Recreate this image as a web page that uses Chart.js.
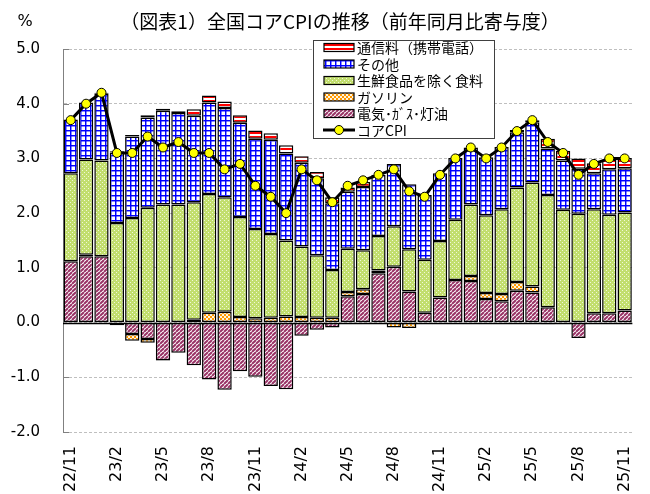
<!DOCTYPE html>
<html><head><meta charset="utf-8">
<script src="https://cdn.jsdelivr.net/npm/chart.js@4.4.1/dist/chart.umd.min.js"></script>
<style>html,body{margin:0;padding:0;background:#fff;}canvas{display:block;}</style>
</head><body>
<canvas id="c" width="650" height="494"></canvas>
<script>
const months = ['22/11','22/12','23/1','23/2','23/3','23/4','23/5','23/6','23/7','23/8','23/9','23/10',
  '23/11','23/12','24/1','24/2','24/3','24/4','24/5','24/6','24/7','24/8','24/9','24/10',
  '24/11','24/12','25/1','25/2','25/3','25/4','25/5','25/6','25/7','25/8','25/9','25/10','25/11'];
const energy   = [1.12,1.21,1.21,-0.01,-0.21,-0.30,-0.69,-0.55,-0.78,-1.04,-1.23,-0.89,
  -0.99,-1.16,-1.22,-0.24,-0.13,-0.09,0.48,0.52,0.90,1.02,0.57,0.18,
  0.46,0.78,0.76,0.43,0.39,0.58,0.55,0.28,0.01,-0.28,0.17,0.17,0.22];
const gasoline = [0.00,0.03,0.00,-0.04,-0.12,-0.07,-0.01,0.00,0.05,0.18,0.20,0.10,
  0.08,0.09,0.11,0.10,0.09,0.09,0.08,0.09,0.05,-0.09,-0.10,-0.01,
  -0.02,0.00,0.09,0.11,0.13,0.16,0.11,-0.03,0.00,0.00,0.00,0.00,0.00];
const food     = [1.61,1.74,1.75,1.82,1.91,2.10,2.16,2.16,2.15,2.17,2.09,1.83,
  1.63,1.53,1.39,1.29,1.14,0.87,0.79,0.71,0.63,0.74,0.77,0.97,
  1.03,1.10,1.31,1.42,1.55,1.73,1.90,2.05,2.05,1.99,1.90,1.80,1.79];
const other    = [0.98,1.04,1.22,1.29,1.49,1.65,1.71,1.67,1.58,1.67,1.63,1.72,
  1.65,1.72,1.59,1.53,1.41,1.22,1.04,1.16,1.12,1.14,1.19,1.18,
  1.24,1.13,1.04,1.06,1.14,1.01,1.10,0.85,0.90,0.82,0.66,0.83,0.81];
const mobile   = [0.00,0.00,0.02,0.02,0.03,0.04,0.04,0.03,0.12,0.13,0.12,0.14,
  0.15,0.12,0.15,0.12,0.11,0.11,0.08,0.09,0.00,0.00,0.00,0.00,
  0.00,0.00,0.00,0.00,0.00,0.04,0.04,0.18,0.18,0.19,0.18,0.18,0.19];
const coreCPI  = [3.7,4.0,4.2,3.1,3.1,3.4,3.2,3.3,3.1,3.1,2.8,2.9,
  2.5,2.3,2.0,2.8,2.6,2.2,2.5,2.6,2.7,2.8,2.4,2.3,
  2.7,3.0,3.2,3.0,3.2,3.5,3.7,3.3,3.1,2.7,2.9,3.0,3.0];
const yTicks = [-2,-1,0,1,2,3,4,5];
const titleText = '（図表1）全国コアCPIの推移（前年同月比寄与度）';

function makePattern(size, draw){
  const c = document.createElement('canvas'); c.width = size; c.height = size;
  const g = c.getContext('2d'); draw(g, size);
  return g.createPattern(c, 'repeat');
}
const energyPat = makePattern(4, (g,s)=>{
  g.fillStyle='#fff'; g.fillRect(0,0,s,s);
  g.strokeStyle='#993366'; g.lineWidth=2; g.beginPath();
  for(let o=-s;o<=2*s;o+=s){ g.moveTo(o,s); g.lineTo(o+s,0); }
  g.stroke();
});
const gasPat = makePattern(4,(g,s)=>{
  g.fillStyle='#FF9900'; g.fillRect(0,0,s,s);
  g.fillStyle='#FFF3E0'; g.fillRect(0,0,2,2); g.fillRect(2,2,2,2);
});
const foodPat = makePattern(4,(g,s)=>{
  g.fillStyle='#C2DE6E'; g.fillRect(0,0,s,s);
  g.fillStyle='#F0F8D8'; g.fillRect(0,0,1,1); g.fillRect(2,2,1,1);
});
const otherPat = makePattern(5,(g,s)=>{
  g.fillStyle='#fff'; g.fillRect(0,0,s,s);
  g.fillStyle='rgba(0,0,255,0.45)'; g.fillRect(0,1,s,1); g.fillRect(1,0,1,s);
  g.fillStyle='#0000FF'; g.fillRect(0,0,s,1); g.fillRect(0,0,1,s);
});
const mobilePat = makePattern(4,(g,s)=>{
  g.fillStyle='#fff'; g.fillRect(0,0,s,s);
  g.fillStyle='#FF0000'; g.fillRect(0,0,s,2);
});

function barSet(label, data, pat){
  return {type:'bar', label, data, backgroundColor:pat, borderColor:'#000', borderWidth:1.5,
    borderSkipped:false, stack:'contrib', order:1, barPercentage:0.93, categoryPercentage:1};
}
const datasets = [
  {type:'line', label:'コアCPI', data:coreCPI, stack:'cpi', order:0, borderColor:'#000', borderWidth:3,
   pointRadius:4.5, pointBackgroundColor:'#FFFF00', pointBorderColor:'#000', pointBorderWidth:1, tension:0},
  barSet('電気･ｶﾞｽ･灯油', energy, energyPat),
  barSet('ガソリン', gasoline, gasPat),
  barSet('生鮮食品を除く食料', food, foodPat),
  barSet('その他', other, otherPat),
  barSet('通信料（携帯電話）', mobile, mobilePat)
];

const decor = {
  id:'decor',
  beforeDatasetsDraw(chart){
    const {ctx, chartArea:a, scales:{y}} = chart;
    ctx.save();
    ctx.strokeStyle='#808080'; ctx.lineWidth=1;
    yTicks.forEach(v=>{
      const py = Math.round(y.getPixelForValue(v))+0.5;
      ctx.beginPath(); ctx.moveTo(a.left,py); ctx.lineTo(a.left+6,py); ctx.stroke();
    });
    const z = Math.round(y.getPixelForValue(0))+0.5;
    ctx.strokeStyle='#000'; ctx.lineWidth=1.5;
    ctx.beginPath(); ctx.moveTo(a.left,z); ctx.lineTo(a.right,z); ctx.stroke();
    ctx.restore();
  },
  afterDraw(chart){
    const ctx = chart.ctx;
    ctx.save();
    ctx.fillStyle='#000'; ctx.textBaseline='middle';
    ctx.font='19px "Noto Sans CJK JP"'; ctx.textAlign='center';
    ctx.fillText(titleText, 340, 22);
    ctx.font='16px "DejaVu Sans"'; ctx.textAlign='center';
    ctx.fillText('%', 25, 22);
    const bx=313.5, by=40.5, bw=181, bh=98;
    ctx.fillStyle='#fff'; ctx.fillRect(bx,by,bw,bh);
    ctx.strokeStyle='#404040'; ctx.lineWidth=1; ctx.strokeRect(bx,by,bw,bh);
    const order = [5,4,3,2,1,0];
    ctx.font='14px "Noto Sans CJK JP"'; ctx.textAlign='left';
    order.forEach((di,row)=>{
      const ds = chart.data.datasets[di];
      const cy = 47.5 + row*16.5;
      if (ds.type==='bar'){
        ctx.fillStyle = ds.backgroundColor;
        ctx.fillRect(324, cy-4, 30, 8);
        ctx.strokeStyle='#000'; ctx.lineWidth=1.2; ctx.strokeRect(324, cy-4, 30, 8);
      } else {
        ctx.strokeStyle='#000'; ctx.lineWidth=3;
        ctx.beginPath(); ctx.moveTo(323,cy); ctx.lineTo(355,cy); ctx.stroke();
        ctx.beginPath(); ctx.arc(339,cy,4.5,0,Math.PI*2);
        ctx.fillStyle='#FFFF00'; ctx.fill(); ctx.lineWidth=1; ctx.stroke();
      }
      ctx.fillStyle='#000';
      ctx.fillText(ds.label, 357, cy+0.5);
    });
    ctx.restore();
  }
};

new Chart(document.getElementById('c'), {
  data:{labels:months, datasets},
  options:{
    responsive:false, animation:false, devicePixelRatio:1, events:[],
    layout:{padding:{top:49,right:10,left:0,bottom:0}},
    plugins:{legend:{display:false}, title:{display:false}, tooltip:{enabled:false}},
    scales:{
      x:{stacked:true, offset:true, grid:{display:false}, border:{display:false},
        ticks:{autoSkip:false, minRotation:90, maxRotation:90, padding:6, color:'#000',
          font:{family:'DejaVu Sans', size:16},
          callback:(v,i)=> i%3===0 ? months[i] : ''},
        afterFit:s=>{s.height=62;}},
      y:{stacked:true, min:-2, max:5,
        ticks:{stepSize:1, padding:23, color:'#000', font:{family:'DejaVu Sans', size:15},
          callback:v=>Number(v).toFixed(1)},
        grid:{color:'#BFBFBF', lineWidth:1, drawTicks:false},
        border:{display:true, color:'#808080', width:1, dash:[3,2]},
        afterFit:s=>{s.width=63;}}
    }
  },
  plugins:[decor]
});
</script>
</body></html>
